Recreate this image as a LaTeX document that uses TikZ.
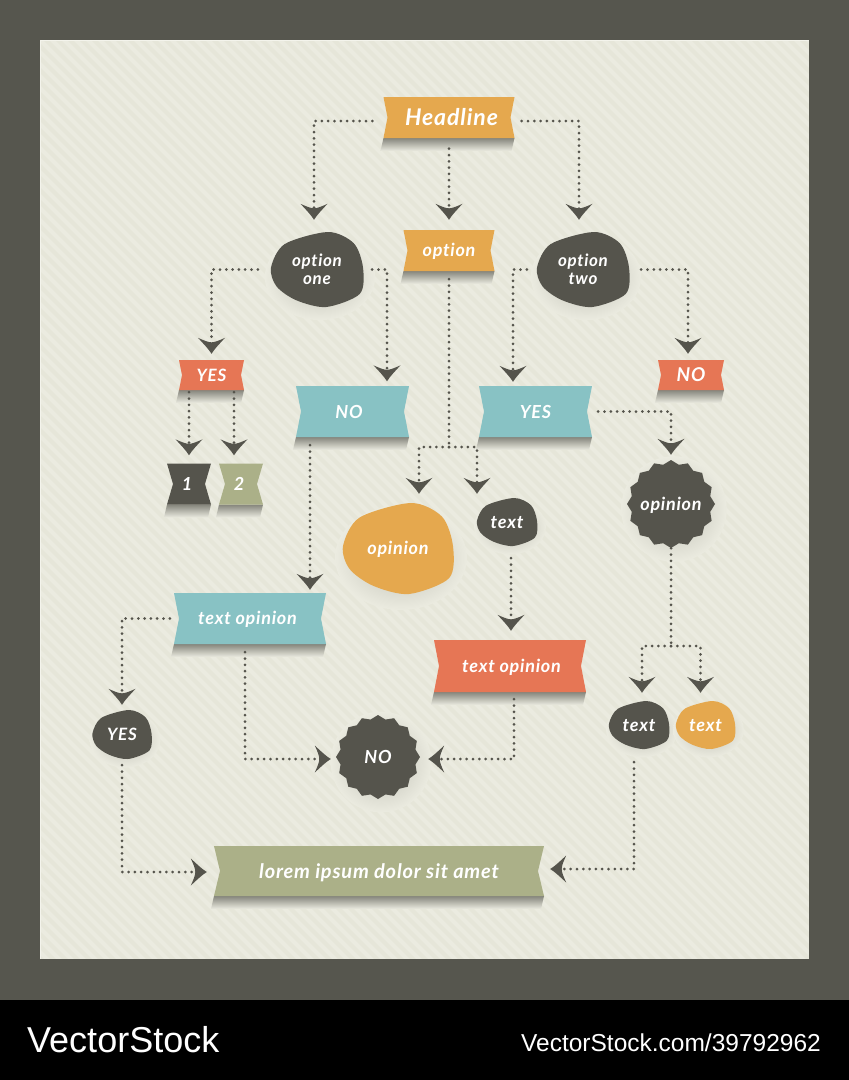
\documentclass[tikz,border=0pt]{standalone}
\usepackage{fontspec}
\setmainfont{Lato}[LetterSpace=4, Ligatures=NoCommon]
\newfontfamily\footerfont{Liberation Sans}
\usepackage{tikz}
\usetikzlibrary{
    arrows.meta,
    shapes.geometric
}
\definecolor{frame}{HTML}{56564E}
\definecolor{paper}{HTML}{EBEBE0}
\definecolor{stripe}{HTML}{E6E6D9}
\definecolor{edge}{HTML}{F4F4EC}
\definecolor{ink}{HTML}{55544C}
\definecolor{orange}{HTML}{E5A84E}
\definecolor{coral}{HTML}{E67655}
\definecolor{teal}{HTML}{88C2C4}
\definecolor{sage}{HTML}{ABB088}
\definecolor{fall}{HTML}{85857C}
\definecolor{glow}{HTML}{BDBDB2}
% Barbed tip of the dotted lines:
\pgfdeclarearrow{
    name = Barb,
    setup code = {
        \pgfarrowssettipend{0pt}
        \pgfarrowssetbackend{-16pt}
        \pgfarrowssetlineend{-11pt}
        \pgfarrowssetvisualbackend{-12pt}
        \pgfarrowshullpoint{0pt}{0pt}
        \pgfarrowsupperhullpoint{-16pt}{13.5pt}
    },
    drawing code = {
        \pgfpathmoveto{\pgfpoint{0pt}{0pt}}
        \pgfpathcurveto{\pgfpoint{-5pt}{3pt}}{\pgfpoint{-10pt}{8pt}}{\pgfpoint{-16pt}{13.5pt}}
        \pgfpathcurveto{\pgfpoint{-13pt}{7pt}}{\pgfpoint{-11.5pt}{3pt}}{\pgfpoint{-11.5pt}{0pt}}
        \pgfpathcurveto{\pgfpoint{-11.5pt}{-3pt}}{\pgfpoint{-13pt}{-7pt}}{\pgfpoint{-16pt}{-13.5pt}}
        \pgfpathcurveto{\pgfpoint{-10pt}{-8pt}}{\pgfpoint{-5pt}{-3pt}}{\pgfpoint{0pt}{0pt}}
        \pgfpathclose
        \pgfusepathqfill
    }
}
\tikzset{
    % Dotted line:
    flow/.style = {
        draw = ink,
        line width = 3pt,
        line cap = round,
        dash pattern = on 0pt off 6.3pt,
        -{Barb[]}
    },
    % Dotted line with no tip:
    trunk/.style = {
        flow,
        -
    },
    tag text/.style = {
        text = white,
        font = \bfseries\itshape\fontsize{#1}{18}\selectfont,
        align = center,
        inner sep = 0pt
    },
    % Invisible box that holds the text:
    tag box/.style 2 args = {
        rectangle,
        minimum width = #1 pt,
        minimum height = #2 pt
    }
}
% One line of small letters, centred as if it were capitals:
\newcommand{\level}[1]{\raisebox{0pt}[.72em][0pt]{#1}}
% [size] name, centre, width, height, notch, colour, text
\newcommand{\ribbon}[8][18]{
    \begin{scope}[shift={(#3)}]
        \shade [top color=fall, bottom color=paper]
            (-#4/2, #5/2)
            -- (#4/2, #5/2)
            -- (#4/2-3, #5/2+13)
            -- (-#4/2-3, #5/2+13)
            -- cycle;
        \fill [#7]
            (-#4/2, -#5/2)
            -- (#4/2, -#5/2)
            -- (#4/2-#6, 0)
            -- (#4/2, #5/2)
            -- (-#4/2, #5/2)
            -- (-#4/2+#6, 0)
            -- cycle;
        \node [tag box={#4}{#5}, tag text=#1] (#2) at (0, 0) {#8};
    \end{scope}
}
% [size] name, centre, half width, half height, colour, text
\newcommand{\blob}[7][18]{
    \begin{scope}[shift={(#3)}]
        \shade [inner color=glow, outer color=paper]
            (3, #5*0.2) ellipse [x radius=#4*1.2, y radius=#5*1.15];
        \fill [#6, xscale=#4, yscale=#5]
            plot [smooth cycle] coordinates {
                (0.24, -1) (0.8, -0.7) (1, -0.05) (0.93, 0.65) (0.2, 1)
                (-0.45, 0.82) (-0.88, 0.45) (-1, -0.05) (-0.7, -0.68)
            };
        \node [tag box={2*#4}{2*#5}, tag text=#1] (#2) at (0, 0) {#7};
    \end{scope}
}
% [size] name, centre, radius, text
\newcommand{\burst}[5][18]{
    \begin{scope}[shift={(#3)}]
        \shade [inner color=glow, outer color=paper]
            (3, 5) ellipse [x radius=#4*1.2, y radius=#4*1.2];
        \node [star, star points=16, star point ratio=1.1, draw=none, fill=ink,
            minimum size=2*#4 pt, tag text=#1, inner sep=-12pt] (#2) at (0, 0) {#5};
    \end{scope}
}

\begin{document}
\begin{tikzpicture}[x=1pt, y=-1pt]
    \useasboundingbox (0, 0) rectangle (849, 1080);
    \fill [paper] (0, 0) rectangle (849, 1000);
    \foreach \s in {-960, -948, ..., 810} {
        \draw [stripe, line width=4pt] (\s, 30) -- ++(970, 970);
    }
    \fill [frame, even odd rule] (-5, -5) rectangle (854, 1000) (40, 40) rectangle (809, 959);
    \fill [black] (-5, 1000) rectangle (854, 1085);
    \draw [edge, line width=1pt] (40.5, 959) -- (40.5, 40.5) -- (809, 40.5);

    \ribbon[23]{headline}{449, 117.5}{131}{41}{4}{orange}{\hspace*{5pt}Headline}
    \ribbon{option}{449, 250.5}{91}{41}{4}{orange}{\level{option}}
    \blob[17]{option one}{317, 269.5}{46}{37.5}{ink}{option\\one}
    \blob[17]{option two}{583, 269.5}{46}{37.5}{ink}{option\\two}
    \ribbon[17]{yes small}{211.5, 375}{65}{30}{3}{coral}{YES}
    \ribbon[19]{no small}{691, 375}{66}{30}{3}{coral}{NO}
    \ribbon{no wide}{352.5, 411.5}{113}{51}{5}{teal}{NO\hspace{7pt}}
    \ribbon{yes wide}{535.5, 411.5}{113}{51}{5}{teal}{YES}
    \ribbon{one}{189, 484}{44}{41}{6}{ink}{1\hspace{4pt}}
    \ribbon{two}{241, 484}{44}{41}{6}{sage}{2\hspace{4pt}}
    \blob{opinion big}{398, 548.5}{55}{45.5}{orange}{\level{opinion}}
    \blob{text mid}{507, 522}{30}{24}{ink}{\level{text}}
    \burst{opinion burst}{671, 504}{44}{\level{opinion}}
    \ribbon{text blue}{250, 618.5}{152}{51}{5}{teal}{\level{text opinion}\hspace{5pt}}
    \ribbon{text red}{510, 666}{152}{52}{5}{coral}{\hspace*{3pt}\level{text opinion}}
    \blob[17]{yes dark}{122, 734.5}{29.5}{24.5}{ink}{YES}
    \blob{text dark}{639, 725}{30}{24}{ink}{\level{text}}
    \blob{text light}{705.5, 725}{29.5}{24}{orange}{\level{text}}
    \burst{no burst}{378, 757}{42}{NO}
    \ribbon[20]{lorem}{379, 871}{330}{50}{6}{sage}{\level{lorem ipsum dolor sit amet}}

    \node [text=white, font=\footerfont\fontsize{36}{40}\selectfont, anchor=base west, inner sep=0pt]
        (brand) at (27, 1052) {VectorStock};
    \node [text=white, font=\footerfont\fontsize{24.5}{28}\selectfont, anchor=base east, inner sep=0pt]
        (link) at (821, 1051) {VectorStock.com/39792962};

    \coordinate (option split) at (449, 447);
    \coordinate (burst split) at (671, 646);

    \draw [flow, shorten <=11pt, shorten >=12pt] ([yshift=-3.5pt]headline.west) -| ([xshift=-3pt]option one.north);
    \draw [flow, shorten <=10.5pt, shorten >=10pt] (headline.south) -- (option.north);
    \draw [flow, shorten <=7pt, shorten >=12pt] ([yshift=-3.5pt]headline.east) -| ([xshift=-4pt]option two.north);
    \draw [flow, shorten <=13pt, shorten >=6pt] (option one.west) -| (yes small.north);
    \draw [flow, shorten <=9pt, shorten >=4.5pt] (option one.east) -| ([xshift=34.5pt]no wide.north);
    \draw [flow, shorten <=10pt, shorten >=4pt] (option two.west) -| ([xshift=-22.5pt]yes wide.north);
    \draw [flow, shorten <=12pt, shorten >=6pt] (option two.east) -| ([xshift=-3pt]no small.north);
    \draw [trunk, shorten <=8pt] (option.south) -- (option split);
    \draw [flow, shorten >=9pt] (option split) -| ([xshift=21pt]opinion big.north);
    \draw [flow, shorten >=4pt] (option split) -| ([xshift=-30pt]text mid.north);
    \draw [flow, shorten <=2pt, shorten >=8pt] ([xshift=-22.5pt]yes small.south) -- (one.north);
    \draw [flow, shorten <=2pt, shorten >=8pt] ([xshift=22.5pt]yes small.south) -- ([xshift=-7pt]two.north);
    \draw [flow, shorten <=8pt, shorten >=3pt] ([xshift=-42.5pt]no wide.south) -- ([xshift=60pt]text blue.north);
    \draw [flow, shorten <=6pt, shorten >=5pt] (yes wide.east) -| (opinion burst.north);
    \draw [trunk] (opinion burst.south) -- (burst split);
    \draw [flow, shorten >=8pt] (burst split) -| ([xshift=3pt]text dark.north);
    \draw [flow, shorten >=8pt] (burst split) -| ([xshift=-5pt]text light.north);
    \draw [flow, shorten <=12pt, shorten >=9pt] ([xshift=4pt]text mid.south) -- ([xshift=1pt]text red.north);
    \draw [flow, shorten <=4pt, shorten >=5pt] (text blue.west) -| (yes dark.north);
    \draw [flow, shorten <=8pt, shorten >=5pt] ([xshift=-5pt]text blue.south) |- ([yshift=-2pt]no burst.west);
    \draw [flow, shorten <=7pt, shorten >=8pt] ([xshift=4pt]text red.south) |- ([yshift=-2pt]no burst.east);
    \draw [flow, shorten <=6pt, shorten >=7pt] (yes dark.south) |- ([yshift=-1pt]lorem.west);
    \draw [flow, shorten <=13pt, shorten >=6pt] ([xshift=-5pt]text dark.south) |- ([yshift=2pt]lorem.east);
\end{tikzpicture}
\end{document}
